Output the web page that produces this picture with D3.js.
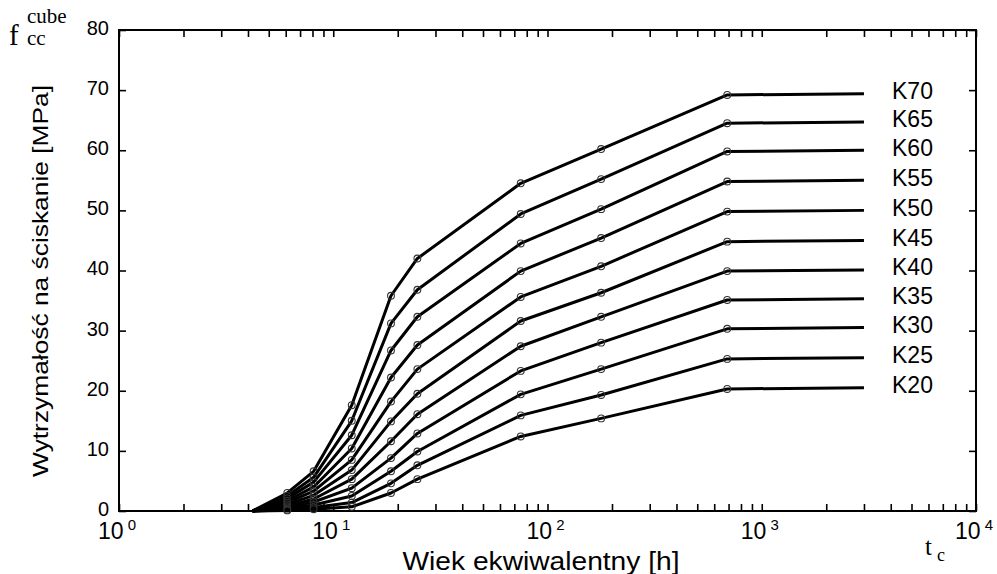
<!DOCTYPE html>
<html>
<head>
<meta charset="utf-8">
<script src="https://cdn.jsdelivr.net/npm/d3@7"></script>
<style>
  html, body { margin: 0; padding: 0; background: #fff; }
  svg { display: block; }
  text { font-family: "Liberation Sans", Arial, sans-serif; fill: #000; }
  .serif { font-family: "Liberation Serif", "Times New Roman", serif; }
</style>
</head>
<body>
<svg id="chart" width="997" height="574"></svg>
<script>
// ---- data ----
const ages = [4.2, 6.1, 8.1, 12.2, 18.6, 24.7, 75, 178, 690, 3000]; // equivalent age [h]
const markerIdx = [1, 2, 3, 4, 5, 6, 7, 8];                          // points drawn with circles
const classes = ["K70", "K65", "K60", "K55", "K50", "K45", "K40", "K35", "K30", "K25", "K20"];
const K70 = [0, 3.0, 6.6, 17.6, 35.8, 42.0, 54.5, 60.2, 69.2, 69.4];
const K65 = [0, 2.5, 5.6, 15.0, 31.2, 36.8, 49.4, 55.2, 64.5, 64.7];
const K60 = [0, 2.1, 4.8, 12.6, 26.7, 32.3, 44.5, 50.2, 59.8, 60.0];
const K55 = [0, 1.7, 4.0, 10.4, 22.2, 27.6, 39.9, 45.4, 54.8, 55.0];
const K50 = [0, 1.4, 3.3, 8.5, 18.2, 23.6, 35.6, 40.7, 49.8, 50.0];
const K45 = [0, 1.1, 2.6, 6.8, 14.9, 19.5, 31.6, 36.3, 44.8, 45.0];
const K40 = [0, 0.8, 2.0, 5.3, 11.6, 16.1, 27.4, 32.3, 39.9, 40.1];
const K35 = [0, 0.6, 1.5, 3.8, 8.8, 12.9, 23.3, 28.0, 35.1, 35.3];
const K30 = [0, 0.4, 1.0, 2.5, 6.6, 9.9, 19.4, 23.6, 30.3, 30.5];
const K25 = [0, 0.2, 0.6, 1.4, 4.6, 7.6, 15.9, 19.3, 25.3, 25.5];
const K20 = [0, 0.1, 0.3, 0.7, 3.0, 5.3, 12.4, 15.4, 20.3, 20.5];
const seriesValues = [K70, K65, K60, K55, K50, K45, K40, K35, K30, K25, K20];
const yTicks = [0, 10, 20, 30, 40, 50, 60, 70, 80];
const xMajor = [1, 10, 100, 1000, 10000];
const xExponents = ["0", "1", "2", "3", "4"];

// ---- layout ----
const svg = d3.select("#chart");
const L = 119, R = 976, T = 30, B = 511;
const x = d3.scaleLog().domain([1, 1e4]).range([L, R]);
const y = d3.scaleLinear().domain([0, 80]).range([B, T]);

// minor + major log ticks
const xTickVals = [];
for (let d = 0; d < 4; d++) for (let k = 1; k <= 9; k++) xTickVals.push(k * Math.pow(10, d));
xTickVals.push(1e4);

const gB = svg.append("g").attr("transform", `translate(0,${B})`)
  .call(d3.axisBottom(x).tickValues(xTickVals).tickSize(-7).tickFormat(""));
const gT = svg.append("g").attr("transform", `translate(0,${T})`)
  .call(d3.axisTop(x).tickValues(xTickVals).tickSize(-7).tickFormat(""));
const gL = svg.append("g").attr("transform", `translate(${L},0)`)
  .call(d3.axisLeft(y).tickValues(yTicks).tickSize(-7).tickPadding(10).tickFormat(d3.format("d")));
const gR = svg.append("g").attr("transform", `translate(${R},0)`)
  .call(d3.axisRight(y).tickValues(yTicks).tickSize(-7).tickFormat(""));

[gB, gT, gL, gR].forEach(g => {
  g.select(".domain").remove();
  g.selectAll(".tick line").attr("stroke", "#000").attr("stroke-width", 1.6);
});
gL.selectAll(".tick text")
  .attr("font-size", 20).attr("font-family", "Liberation Sans, Arial, sans-serif")
  .attr("dy", "0.22em").attr("fill", "#000");

// frame
svg.append("rect").attr("x", L).attr("y", T).attr("width", R - L).attr("height", B - T)
  .attr("fill", "none").attr("stroke", "#000").attr("stroke-width", 2);

// x major labels 10^n
xMajor.forEach((v, i) => {
  const t = svg.append("text").attr("x", x(v) - 2).attr("y", 539)
    .attr("text-anchor", "middle").attr("font-size", 23);
  t.append("tspan").text("10");
  t.append("tspan").attr("dy", -9).attr("dx", 4).attr("font-size", 15).text(xExponents[i]);
});

// lines
const line = d3.line().x(d => x(d.t)).y(d => y(d.v));
classes.forEach((name, si) => {
  const pts = ages.map((t, i) => ({ t, v: seriesValues[si][i] }));
  svg.append("path").datum(pts).attr("d", line)
    .attr("fill", "none").attr("stroke", "#000").attr("stroke-width", 3)
    .attr("stroke-linejoin", "round");
  svg.selectAll(null).data(markerIdx.map(i => pts[i])).enter().append("circle")
    .attr("cx", d => x(d.t)).attr("cy", d => y(d.v)).attr("r", 3.4)
    .attr("fill", "none").attr("stroke", "#333").attr("stroke-width", 1.1);
  const last = pts[pts.length - 1];
  svg.append("text").attr("x", 892).attr("y", y(last.v) - 3).attr("dy", "0.36em")
    .attr("font-size", 23).text(name);
});

// axis titles
svg.append("text").attr("x", 541).attr("y", 570).attr("text-anchor", "middle")
  .attr("font-size", 25).attr("textLength", 277).attr("lengthAdjust", "spacingAndGlyphs")
  .text("Wiek ekwiwalentny [h]");
svg.append("text").attr("transform", "translate(48,281) rotate(-90)")
  .attr("text-anchor", "middle").attr("font-size", 22)
  .attr("textLength", 392).attr("lengthAdjust", "spacingAndGlyphs")
  .text("Wytrzymałość na ściskanie [MPa]");

// f_cc^cube symbol
svg.append("text").attr("class", "serif").attr("x", 9).attr("y", 45).attr("font-size", 29).text("f");
svg.append("text").attr("class", "serif").attr("x", 27).attr("y", 23).attr("font-size", 21).text("cube");
svg.append("text").attr("class", "serif").attr("x", 27).attr("y", 45).attr("font-size", 21).text("cc");

// t_c symbol
svg.append("text").attr("class", "serif").attr("x", 925).attr("y", 555).attr("font-size", 25).text("t");
svg.append("text").attr("class", "serif").attr("x", 937).attr("y", 561).attr("font-size", 18).text("c");
</script>
</body>
</html>
